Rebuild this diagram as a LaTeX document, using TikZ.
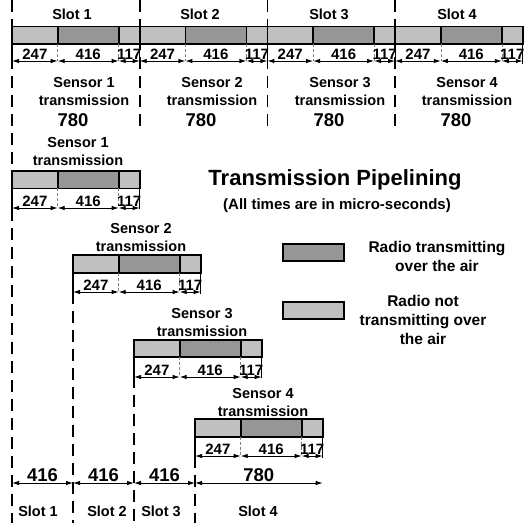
\documentclass[tikz,border=0pt]{standalone}
\usepackage{fontspec}
\setmainfont{Liberation Sans}
\usetikzlibrary{arrows.meta,positioning}

\definecolor{idlegray}{RGB}{192,192,192}
\definecolor{airgray}{RGB}{150,150,150}

\begin{document}
\begin{tikzpicture}[
    x=1pt, y=-1pt,
    >={Latex[length=7pt,width=4.5pt]},
    warmup/.style={
        rectangle,
        draw=black,
        line width=1.6pt,
        fill=idlegray,
        minimum width=45.7pt,
        minimum height=17.5pt,
        inner sep=0pt,
        outer sep=0pt
    },
    onair/.style={warmup, fill=airgray, minimum width=61pt},
    cooldown/.style={warmup, minimum width=21pt},
    dim/.style={<->, line width=0.9pt},
    tick/.style={line width=1.2pt},
    subtick/.style={densely dashed, line width=0.5pt, gray},
    slotline/.style={line width=1.6pt, dash pattern=on 12pt off 7pt},
    lbl/.style={font=\fontsize{14.5}{18}\selectfont\bfseries, align=center, inner sep=0pt},
    legend/.style={font=\fontsize{15.5}{19}\selectfont\bfseries, align=center, inner sep=0pt},
    num/.style={font=\fontsize{15}{17}\selectfont\bfseries, inner sep=1.2pt},
    big/.style={font=\fontsize{18.5}{22}\selectfont\bfseries, inner sep=1pt}
]
\useasboundingbox (0,0) rectangle (526,523);

% Row levels for the dimension arrows
\coordinate (toprow) at (0,61);
\coordinate (row1) at (0,208);
\coordinate (row2) at (0,292);
\coordinate (row3) at (0,377);
\coordinate (row4) at (0,456);
\coordinate (botrow) at (0,483);
\coordinate (ceil) at (0,0);
\coordinate (topend) at (0,130);
\coordinate (floor) at (0,523);

% Slot schedule (top)
\node[warmup, anchor=west] (s1a) at (12,35.3) {};
\node[onair, right=0pt of s1a] (s1b) {};
\node[cooldown, right=0pt of s1b] (s1c) {};
\node[warmup, right=0pt of s1c] (s2a) {};
\node[onair, right=0pt of s2a] (s2b) {};
\node[cooldown, right=0pt of s2b] (s2c) {};
\node[warmup, right=0pt of s2c] (s3a) {};
\node[onair, right=0pt of s3a] (s3b) {};
\node[cooldown, right=0pt of s3b] (s3c) {};
\node[warmup, right=0pt of s3c] (s4a) {};
\node[onair, right=0pt of s4a] (s4b) {};
\node[cooldown, right=0pt of s4b] (s4c) {};

\node[lbl] (slot1) at (72,14.5) {Slot 1};
\node[lbl] (slot2) at (200,14.5) {Slot 2};
\node[lbl] (slot3) at (329,14.5) {Slot 3};
\node[lbl] (slot4) at (457,14.5) {Slot 4};

% top dimensions
\draw[tick] (s1a.south west) -- ++(0,20);
\draw[subtick] (s1a.south east) -- ++(0,17);
\draw[subtick] (s1b.south east) -- ++(0,17);
\draw[tick] (s1c.south east) -- ++(0,20);
\draw[subtick] (s2a.south east) -- ++(0,17);
\draw[subtick] (s2b.south east) -- ++(0,17);
\draw[tick] (s2c.south east) -- ++(0,20);
\draw[subtick] (s3a.south east) -- ++(0,17);
\draw[subtick] (s3b.south east) -- ++(0,17);
\draw[tick] (s3c.south east) -- ++(0,20);
\draw[subtick] (s4a.south east) -- ++(0,17);
\draw[subtick] (s4b.south east) -- ++(0,17);
\draw[tick] (s4c.south east) -- ++(0,20);

\draw[dim] (s1a.south west |- toprow) -- node[num, above] (d1a) {247} (s1a.south east |- toprow);
\draw[dim] (s1b.south west |- toprow) -- node[num, above] (d1b) {416} (s1b.south east |- toprow);
\draw[dim] (s1c.south west |- toprow) -- node[num, above] (d1c) {117} (s1c.south east |- toprow);
\draw[dim] (s2a.south west |- toprow) -- node[num, above] (d2a) {247} (s2a.south east |- toprow);
\draw[dim] (s2b.south west |- toprow) -- node[num, above] (d2b) {416} (s2b.south east |- toprow);
\draw[dim] (s2c.south west |- toprow) -- node[num, above] (d2c) {117} (s2c.south east |- toprow);
\draw[dim] (s3a.south west |- toprow) -- node[num, above] (d3a) {247} (s3a.south east |- toprow);
\draw[dim] (s3b.south west |- toprow) -- node[num, above] (d3b) {416} (s3b.south east |- toprow);
\draw[dim] (s3c.south west |- toprow) -- node[num, above] (d3c) {117} (s3c.south east |- toprow);
\draw[dim] (s4a.south west |- toprow) -- node[num, above] (d4a) {247} (s4a.south east |- toprow);
\draw[dim] (s4b.south west |- toprow) -- node[num, above] (d4b) {416} (s4b.south east |- toprow);
\draw[dim] (s4c.south west |- toprow) -- node[num, above] (d4c) {117} (s4c.south east |- toprow);

\node[lbl] (tx1) at (84,91.5) {Sensor 1\\transmission};
\node[lbl] (tx2) at (212,91.5) {Sensor 2\\transmission};
\node[lbl] (tx3) at (340,91.5) {Sensor 3\\transmission};
\node[lbl] (tx4) at (467,91.5) {Sensor 4\\transmission};
\node[big] (len1) at (73,120) {780};
\node[big] (len2) at (201,120) {780};
\node[big] (len3) at (329,120) {780};
\node[big] (len4) at (456,120) {780};

% Pipelined transmissions
\node[lbl] (ptx1) at (78,152) {Sensor 1\\transmission};
\node[warmup, anchor=west] (p1a) at (12,179.7) {};
\node[onair, right=0pt of p1a] (p1b) {};
\node[cooldown, right=0pt of p1b] (p1c) {};

\node[lbl] (ptx2) at (141,237) {Sensor 2\\transmission};
\node[warmup, anchor=west] (p2a) at (73,264) {};
\node[onair, right=0pt of p2a] (p2b) {};
\node[cooldown, right=0pt of p2b] (p2c) {};

\node[lbl] (ptx3) at (202,322) {Sensor 3\\transmission};
\node[warmup, anchor=west] (p3a) at (134,348.5) {};
\node[onair, right=0pt of p3a] (p3b) {};
\node[cooldown, right=0pt of p3b] (p3c) {};

\node[lbl] (ptx4) at (263,402) {Sensor 4\\transmission};
\node[warmup, anchor=west] (p4a) at (195,428) {};
\node[onair, right=0pt of p4a] (p4b) {};
\node[cooldown, right=0pt of p4b] (p4c) {};

\draw[tick] (p1a.south west) -- ++(0,21);
\draw[subtick] (p1a.south east) -- ++(0,19);
\draw[subtick] (p1b.south east) -- ++(0,19);
\draw[tick] (p1c.south east) -- ++(0,21);
\draw[dim] (p1a.south west |- row1) -- node[num, above] (q1a) {247} (p1a.south east |- row1);
\draw[dim] (p1b.south west |- row1) -- node[num, above] (q1b) {416} (p1b.south east |- row1);
\draw[dim] (p1c.south west |- row1) -- node[num, above] (q1c) {117} (p1c.south east |- row1);

\draw[tick] (p2a.south west) -- ++(0,21);
\draw[subtick] (p2a.south east) -- ++(0,19);
\draw[subtick] (p2b.south east) -- ++(0,19);
\draw[tick] (p2c.south east) -- ++(0,21);
\draw[dim] (p2a.south west |- row2) -- node[num, above] (q2a) {247} (p2a.south east |- row2);
\draw[dim] (p2b.south west |- row2) -- node[num, above] (q2b) {416} (p2b.south east |- row2);
\draw[dim] (p2c.south west |- row2) -- node[num, above] (q2c) {117} (p2c.south east |- row2);

\draw[tick] (p3a.south west) -- ++(0,21);
\draw[subtick] (p3a.south east) -- ++(0,19);
\draw[subtick] (p3b.south east) -- ++(0,19);
\draw[tick] (p3c.south east) -- ++(0,21);
\draw[dim] (p3a.south west |- row3) -- node[num, above] (q3a) {247} (p3a.south east |- row3);
\draw[dim] (p3b.south west |- row3) -- node[num, above] (q3b) {416} (p3b.south east |- row3);
\draw[dim] (p3c.south west |- row3) -- node[num, above] (q3c) {117} (p3c.south east |- row3);

\draw[tick] (p4a.south west) -- ++(0,21);
\draw[subtick] (p4a.south east) -- ++(0,19);
\draw[subtick] (p4b.south east) -- ++(0,19);
\draw[tick] (p4c.south east) -- ++(0,21);
\draw[dim] (p4a.south west |- row4) -- node[num, above] (q4a) {247} (p4a.south east |- row4);
\draw[dim] (p4b.south west |- row4) -- node[num, above] (q4b) {416} (p4b.south east |- row4);
\draw[dim] (p4c.south west |- row4) -- node[num, above] (q4c) {117} (p4c.south east |- row4);

% Slot lengths after pipelining (bottom)
\draw[dim] (p1a.south west |- botrow) -- node[big, above] (b1) {416} (p2a.south west |- botrow);
\draw[dim] (p2a.south west |- botrow) -- node[big, above] (b2) {416} (p3a.south west |- botrow);
\draw[dim] (p3a.south west |- botrow) -- node[big, above] (b3) {416} (p4a.south west |- botrow);
\draw[dim] (p4a.south west |- botrow) -- node[big, above] (b4) {780} (p4c.south east |- botrow);
\node[lbl] (bslot1) at (38,511) {Slot 1};
\node[lbl] (bslot2) at (107,511) {Slot 2};
\node[lbl] (bslot3) at (161,511) {Slot 3};
\node[lbl] (bslot4) at (258,511) {Slot 4};

% Slot boundaries
\draw[slotline] (s1a.west |- ceil) -- (s1a.west |- floor);
\draw[slotline] (s2a.west |- ceil) -- (s2a.west |- topend);
\draw[slotline] (s3a.west |- ceil) -- (s3a.west |- topend);
\draw[slotline] (s4a.west |- ceil) -- (s4a.west |- topend);
\draw[slotline] (p2a.south west) -- (p2a.south west |- floor);
\draw[slotline] (p3a.south west) -- (p3a.south west |- floor);
\draw[slotline] (p4a.south west) -- (p4a.south west |- floor);

% Title and legend
\node[font=\fontsize{22}{26}\selectfont\bfseries, inner sep=0pt] (title) at (335,180) {Transmission Pipelining};
\node[font=\fontsize{15}{18}\selectfont\bfseries, inner sep=0pt] (subtitle) at (337,206) {(All times are in micro-seconds)};
\node[onair] (keyon) at (313.5,252.5) {};
\node[warmup, minimum width=61pt] (keyoff) at (313.5,310.5) {};
\node[legend] (keyontext) at (437,256) {Radio transmitting\\over the air};
\node[legend] (keyofftext) at (423,320) {Radio not\\transmitting over\\the air};

\end{tikzpicture}
\end{document}
